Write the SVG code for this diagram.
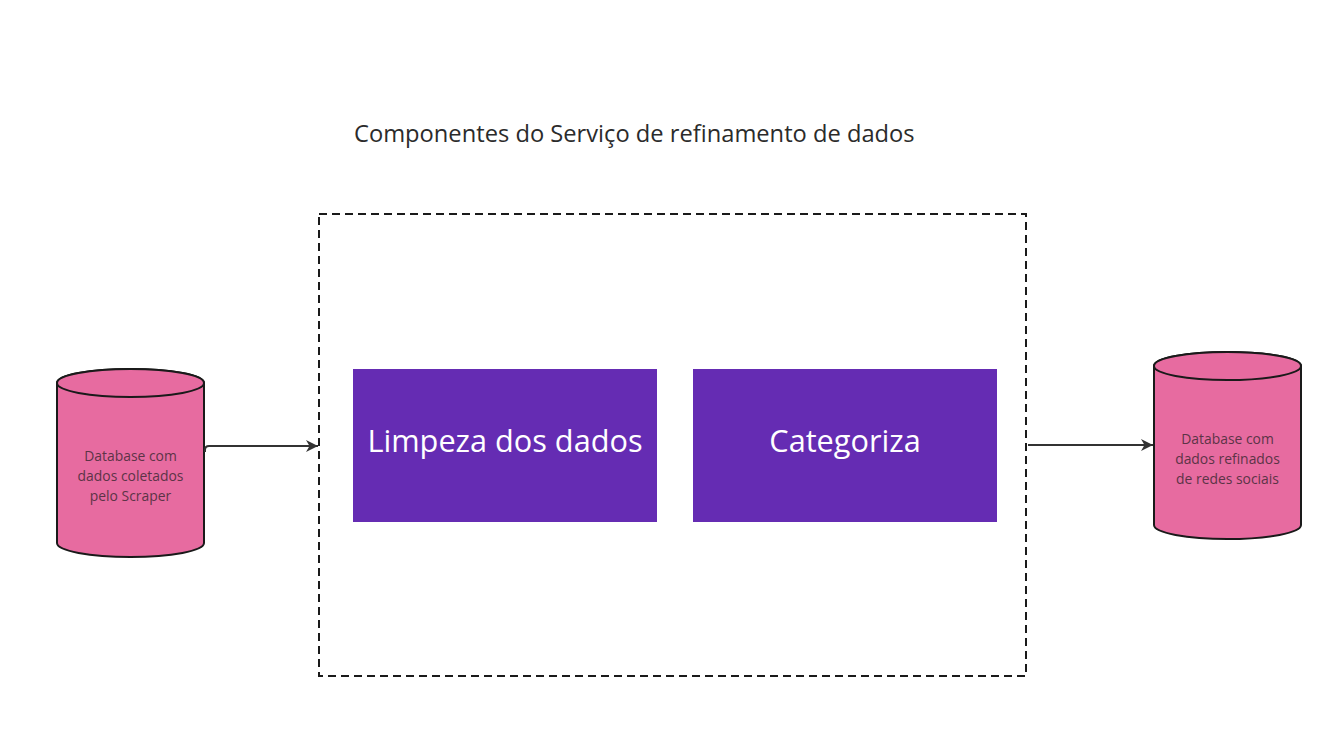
<svg xmlns="http://www.w3.org/2000/svg" width="1335" height="748" viewBox="0 0 1335 748">
<style>
.cyl{fill:#E76BA0;stroke:#1a1a1a;stroke-width:2}
.dbt{font-family:"Open Sans","Noto Sans",sans-serif;font-size:13.9px;fill:#5c3447;text-anchor:middle}
.box{fill:#652CB3}
.bt{font-family:"Open Sans","Noto Sans",sans-serif;font-size:30.7px;fill:#ffffff;text-anchor:middle}
.conn{fill:none;stroke:#333333;stroke-width:2}
</style>
<defs>
<marker id="arr" viewBox="0 0 14 14" refX="13" refY="7" markerWidth="14" markerHeight="14" markerUnits="userSpaceOnUse" orient="auto">
<path d="M1,1 L13,7 L1,13 L4.5,7 Z" fill="#333333"/>
</marker>
</defs>
<rect width="1335" height="748" fill="#ffffff"/>
<text x="354" y="142" font-family="'Open Sans','Noto Sans',sans-serif" font-size="23.7" fill="#2b2b2b">Componentes do Serviço de refinamento de dados</text>
<g id="container">
<rect x="319" y="214" width="707" height="462" fill="none" stroke="#1a1a1a" stroke-width="2" stroke-dasharray="8,5"/>
</g>
<g id="db-in">
<path class="cyl" d="M57,383 L57,543 A73.5,14 0 0 0 204,543 L204,383 A73.5,14 0 0 0 57,383 Z"/>
<ellipse class="cyl" cx="130.5" cy="383" rx="73.5" ry="14"/>
<text class="dbt" x="130.5" y="461">Database com</text>
<text class="dbt" x="130.5" y="481">dados coletados</text>
<text class="dbt" x="130.5" y="501">pelo Scraper</text>
</g>
<g id="db-out">
<path class="cyl" d="M1154,366 L1154,525 A73.5,14 0 0 0 1301,525 L1301,366 A73.5,14 0 0 0 1154,366 Z"/>
<ellipse class="cyl" cx="1227.5" cy="366" rx="73.5" ry="14"/>
<text class="dbt" x="1227.5" y="444">Database com</text>
<text class="dbt" x="1227.5" y="464">dados refinados</text>
<text class="dbt" x="1227.5" y="484">de redes sociais</text>
</g>
<g id="limpeza">
<rect class="box" x="353" y="369" width="304" height="153"/>
<text class="bt" x="505" y="452">Limpeza dos dados</text>
</g>
<g id="categoriza">
<rect class="box" x="693" y="369" width="304" height="153"/>
<text class="bt" x="845" y="452">Categoriza</text>
</g>
<g id="connectors">
<path class="conn" d="M205,452 L205,450 Q205,446 209,446 L318,446" marker-end="url(#arr)"/>
<path class="conn" d="M1028,445 L1153,445" marker-end="url(#arr)"/>
</g>
</svg>
